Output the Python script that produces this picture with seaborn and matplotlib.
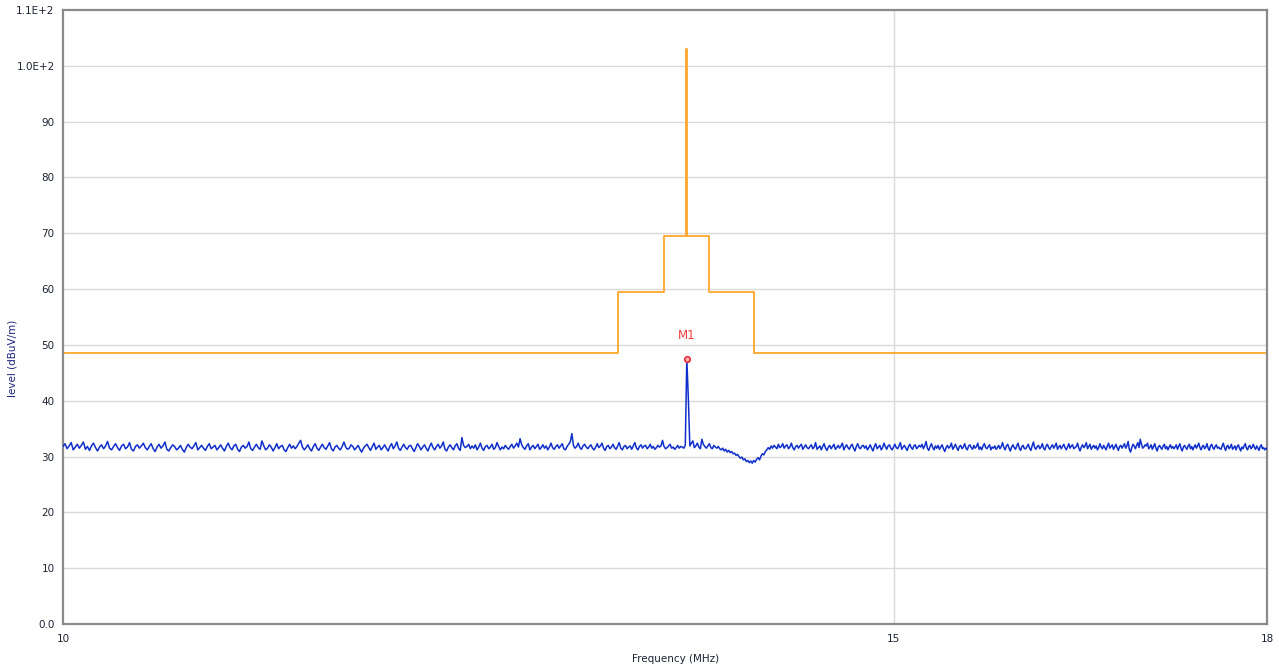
import numpy as np
import pandas as pd
import seaborn as sns
import matplotlib
matplotlib.use("Agg")
import matplotlib.pyplot as plt

# measured trace, one value every 0.01 MHz from 10.00 to 18.00 MHz (10 per line)
f_start, f_step = 10.0, 0.01
level = [
    31.8, 32.3, 31.4, 31.9, 32.5, 31.2, 31.7, 32.2, 31.5, 32.0,
    32.6, 31.3, 31.8, 31.1, 31.9, 32.4, 31.6, 31.0, 31.7, 32.1,
    31.4, 31.9, 32.7, 31.5, 31.2, 31.8, 32.3, 31.6, 31.1, 31.9,
    32.2, 31.4, 31.7, 32.5, 31.3, 31.0, 31.8, 32.1, 31.5, 31.9,
    32.4, 31.6, 31.2, 31.8, 32.3, 31.4, 30.9, 31.7, 32.2, 31.5,
    31.9, 32.6, 31.3, 31.0, 31.6, 32.1, 31.8, 31.2, 31.5, 32.0,
    31.3, 30.8, 31.6, 32.2, 31.7, 31.4, 31.9, 32.5, 31.2, 31.6,
    32.0, 31.5, 31.1, 31.8, 32.3, 31.4, 31.7, 32.0, 31.2, 31.6,
    32.1, 31.5, 31.0, 31.8, 32.4, 31.6, 31.2, 31.9, 32.2, 31.3,
    30.9, 31.7, 32.0, 31.5, 31.8, 32.6, 31.4, 31.1, 31.7, 32.2,
    31.6, 31.3, 32.8, 31.9, 31.2, 31.5, 32.1, 31.7, 31.0, 31.6,
    32.3, 31.4, 31.8, 32.0, 31.2, 30.9, 31.6, 32.2, 31.5, 31.9,
    31.4, 31.8, 32.4, 32.9, 31.7, 31.2, 31.6, 32.1, 31.4, 31.0,
    31.8, 32.3, 31.5, 31.1, 31.7, 32.2, 31.6, 31.3, 31.9, 32.5,
    31.4, 31.0, 31.7, 32.0, 31.5, 31.2, 31.8, 32.6, 31.7, 31.3,
    31.5, 32.1, 31.8, 31.2, 31.6, 32.0, 31.3, 30.8, 31.5, 31.9,
    32.2, 31.6, 31.1, 31.8, 32.4, 31.3, 31.7, 32.0, 31.2, 31.6,
    32.1, 31.5, 31.0, 31.8, 32.3, 31.4, 31.9, 32.6, 31.5, 31.1,
    31.7, 32.2, 31.6, 31.3, 31.9, 32.0, 31.4, 30.9, 31.6, 32.3,
    31.8, 31.2, 31.7, 32.1, 31.5, 31.0, 31.8, 32.4, 31.6, 31.2,
    31.8, 32.2, 31.5, 31.9, 32.6, 31.3, 31.0, 31.7, 32.1, 31.6,
    31.2, 31.9, 32.3, 31.5, 31.1, 33.4, 32.0, 31.6, 31.8, 32.2,
    31.4, 31.9, 31.5, 32.1, 31.2, 31.7, 32.4, 31.5, 31.1, 31.8,
    32.0, 31.4, 31.7, 32.2, 31.3, 31.6, 32.5, 31.8, 31.2, 31.7,
    31.4, 32.0, 31.6, 31.3, 31.8, 32.2, 31.5, 31.9, 32.4, 31.7,
    33.2, 32.1, 31.6, 31.3, 31.9, 32.3, 31.2, 31.7, 32.0, 31.4,
    31.8, 32.2, 31.3, 31.6, 32.1, 31.5, 31.9, 31.2, 31.7, 32.4,
    31.6, 31.3, 31.8, 32.1, 31.5, 31.9, 32.3, 31.4, 31.2, 31.8,
    32.2, 32.6, 34.1, 32.0, 31.5, 31.8, 32.4, 31.6, 31.3, 31.9,
    32.2, 31.7, 31.4, 31.8, 32.1, 31.5, 31.2, 31.7, 32.3, 31.6,
    31.9, 32.4, 31.5, 31.1, 31.8, 32.0, 31.4, 31.7, 32.2, 31.6,
    31.3, 31.9, 32.5, 31.5, 31.2, 31.8, 32.0, 31.4, 31.7, 31.9,
    31.3, 31.9, 32.5, 31.6, 31.2, 31.8, 32.1, 31.5, 31.9, 32.0,
    31.4, 31.7, 32.2, 31.5, 31.8, 31.3, 31.6, 32.0, 31.7, 31.9,
    32.9, 31.8, 31.4, 31.6, 31.9, 32.2, 31.5, 31.7, 31.3, 31.6,
    32.0, 31.5, 31.8, 31.7, 31.5, 32.0, 47.5, 40.5, 31.9, 32.4,
    32.8, 31.6, 31.9, 32.4, 31.7, 31.4, 33.1, 32.2, 31.8, 31.5,
    31.9, 32.3, 31.6, 31.4, 32.0, 31.7, 31.5, 31.8, 31.4, 31.2,
    31.5, 31.0, 31.3, 30.8, 31.1, 30.7, 30.9, 30.5, 30.6, 30.2,
    30.4, 30.0, 29.7, 29.9, 29.4, 29.6, 29.1, 29.3, 28.9, 29.2,
    28.8, 29.3, 29.0, 29.5, 29.8, 29.4, 30.1, 30.5, 30.3, 30.9,
    31.2, 31.6, 31.3, 31.9, 31.5, 32.0, 31.7, 31.4, 32.2, 31.6,
    31.8, 32.3, 31.5, 31.9, 32.1, 31.4, 31.7, 32.4, 31.6, 31.2,
    31.8, 32.0, 31.5, 31.9, 32.2, 31.3, 31.7, 32.1, 31.6, 31.4,
    31.8, 32.1, 31.4, 31.7, 32.5, 31.3, 31.6, 31.9, 31.2, 31.8,
    32.3, 31.5, 31.1, 31.7, 32.0, 31.4, 31.8, 32.2, 31.3, 31.6,
    32.0, 31.5, 31.9, 32.4, 31.2, 31.7, 32.1, 31.6, 31.3, 31.9,
    32.2, 31.5, 31.0, 31.8, 32.3, 31.6, 31.4, 31.9, 32.0, 31.5,
    31.9, 31.2, 31.6, 32.1, 31.5, 31.0, 31.8, 32.3, 31.4, 31.7,
    32.0, 31.2, 31.6, 32.4, 31.8, 31.3, 31.9, 32.1, 31.5, 31.2,
    31.7, 32.2, 31.6, 31.4, 31.9, 32.5, 31.3, 31.7, 32.0, 31.5,
    31.1, 31.8, 32.2, 31.6, 31.3, 31.9, 32.1, 31.4, 31.7, 32.0,
    31.7, 32.2, 31.4, 31.9, 32.7, 31.5, 31.1, 31.8, 32.3, 31.6,
    31.2, 31.9, 31.5, 32.0, 31.3, 31.7, 32.1, 31.4, 30.9, 31.6,
    32.0, 31.5, 31.8, 32.4, 31.3, 31.7, 32.2, 31.6, 31.1, 31.8,
    32.0, 31.4, 31.7, 32.3, 31.5, 31.2, 31.9, 32.1, 31.6, 31.3,
    32.0, 31.5, 31.8, 32.4, 31.3, 31.7, 31.2, 31.9, 32.3, 31.6,
    31.4, 31.8, 32.1, 31.2, 31.7, 31.5, 31.9, 31.3, 31.6, 32.0,
    31.4, 31.8, 32.5, 31.6, 31.2, 31.9, 32.2, 31.5, 31.0, 31.7,
    32.1, 31.6, 31.3, 31.9, 32.4, 31.5, 31.1, 31.8, 32.0, 31.4,
    31.4, 31.8, 32.2, 31.5, 31.1, 31.9, 32.6, 31.6, 31.3, 31.8,
    32.0, 31.4, 31.7, 32.3, 31.5, 31.2, 31.9, 32.2, 31.6, 31.3,
    31.8, 32.1, 31.5, 31.9, 32.4, 31.3, 31.7, 32.0, 31.4, 31.8,
    32.2, 31.6, 31.2, 31.7, 32.3, 31.5, 31.9, 32.1, 31.4, 31.6,
    31.8, 32.4, 31.5, 31.0, 31.7, 32.1, 31.6, 31.9, 32.5, 31.4,
    31.8, 32.2, 31.3, 31.7, 32.0, 31.5, 31.9, 31.2, 31.6, 32.3,
    31.7, 31.4, 32.0, 31.6, 31.2, 31.9, 32.4, 31.5, 31.8, 32.1,
    31.3, 31.7, 32.2, 31.6, 31.1, 31.8, 32.0, 31.5, 31.9, 32.3,
    31.5, 31.9, 32.7, 31.3, 30.8, 31.6, 32.2, 31.9, 31.4, 32.0,
    32.5, 31.6, 33.1, 32.2, 31.5, 31.7, 32.1, 31.9, 32.4, 31.4,
    31.7, 32.1, 31.3, 31.8, 32.3, 31.5, 31.0, 31.7, 32.0, 31.6,
    31.3, 31.9, 32.2, 31.4, 31.8, 31.2, 31.7, 32.1, 31.5, 31.8,
    31.4, 31.7, 32.1, 31.3, 31.8, 32.3, 31.5, 31.0, 31.7, 32.0,
    31.6, 31.3, 31.9, 32.2, 31.4, 31.8, 31.2, 31.7, 32.1, 31.5,
    31.9, 32.4, 31.6, 31.2, 31.8, 32.0, 31.4, 31.7, 32.3, 31.5,
    31.1, 31.9, 32.2, 31.6, 31.3, 31.8, 32.1, 31.5, 31.7, 31.4,
    31.3, 31.9, 32.4, 31.6, 31.1, 31.8, 32.0, 31.4, 31.7, 32.2,
    31.3, 31.6, 31.9, 31.2, 31.8, 32.1, 31.5, 31.0, 31.7, 31.4,
    31.9, 32.3, 31.5, 31.2, 31.8, 32.0, 31.4, 31.7, 32.2, 31.6,
    31.3, 31.9, 31.5, 31.1, 31.8, 32.1, 31.4, 31.6, 31.2, 31.5,
    31.3,
]

# limit line breakpoints (MHz, dBuV/m), drawn as steps
limit_freq = [10.0, 13.11, 13.41, 13.556, 13.564, 13.71, 14.01, 18.0]
limit_level = [48.5, 59.5, 69.5, 103.0, 69.5, 59.5, 48.5, 48.5]

marker_freq = 13.56
marker_level = 47.5
marker_name = "M1"

y_ticks = [0, 10, 20, 30, 40, 50, 60, 70, 80, 90, 100, 110]
y_labels = ["0.0", "10", "20", "30", "40", "50", "60", "70", "80", "90", "1.0E+2", "1.1E+2"]
x_ticks = [10, 15, 18]
x_labels = ["10", "15", "18"]

freq = np.round(f_start + f_step * np.arange(len(level)), 3)
trace = pd.DataFrame({"freq": freq, "level": level})
limit = pd.DataFrame({"freq": limit_freq, "level": limit_level})

sns.set_style("white")
plt.rcParams["font.family"] = ["DejaVu Sans"]

fig = plt.figure(figsize=(12.79, 6.70), dpi=100)
ax = fig.add_axes([63 / 1279, 1 - 624 / 670, 1204 / 1279, 614 / 670])

grid_c = "#dadada"
for y in y_ticks[1:-1]:
    ax.axhline(y, color=grid_c, lw=1, zorder=0)
ax.axvline(15, color=grid_c, lw=1, zorder=0)

sns.lineplot(data=limit, x="freq", y="level", ax=ax, color="#FFA62B", lw=1.3,
             drawstyle="steps-post", sort=False, estimator=None, zorder=2)
sns.lineplot(data=trace, x="freq", y="level", ax=ax, color="#0E2FCC", lw=1.1,
             sort=False, estimator=None, zorder=3)
ax.plot([marker_freq], [marker_level], "o", ms=4, mfc="#ffb0b0", mec="#e8303a", mew=1.2, zorder=4)
ax.text(marker_freq, marker_level + 3.0, marker_name, color="#ee3b3b", fontsize=8.5,
        ha="center", va="bottom")

ax.set_xscale("log")
ax.set_xlim(10, 18)
ax.set_ylim(0, 110)
ax.set_xticks(x_ticks)
ax.set_xticklabels(x_labels)
ax.xaxis.set_minor_locator(matplotlib.ticker.NullLocator())
ax.set_yticks(y_ticks)
ax.set_yticklabels(y_labels)

tick_c = "#1c2333"
ax.tick_params(axis="both", direction="out", length=4, width=1, color="#555555",
               labelsize=7.5, labelcolor=tick_c, pad=2)
ax.tick_params(axis="x", pad=3)
for sp in ax.spines.values():
    sp.set_color("#8a8a8a")
    sp.set_linewidth(1.6)
    sp.set_visible(True)

ax.set_xlabel("Frequency (MHz)", fontsize=7.5, color=tick_c)
ax.set_ylabel("level (dBuV/m)", fontsize=7.5, color="#1a237e")
ax.xaxis.set_label_coords(0.509, -0.049)
ax.yaxis.set_label_coords(-0.038, 0.432)

fig.savefig("out.png", dpi=100)
